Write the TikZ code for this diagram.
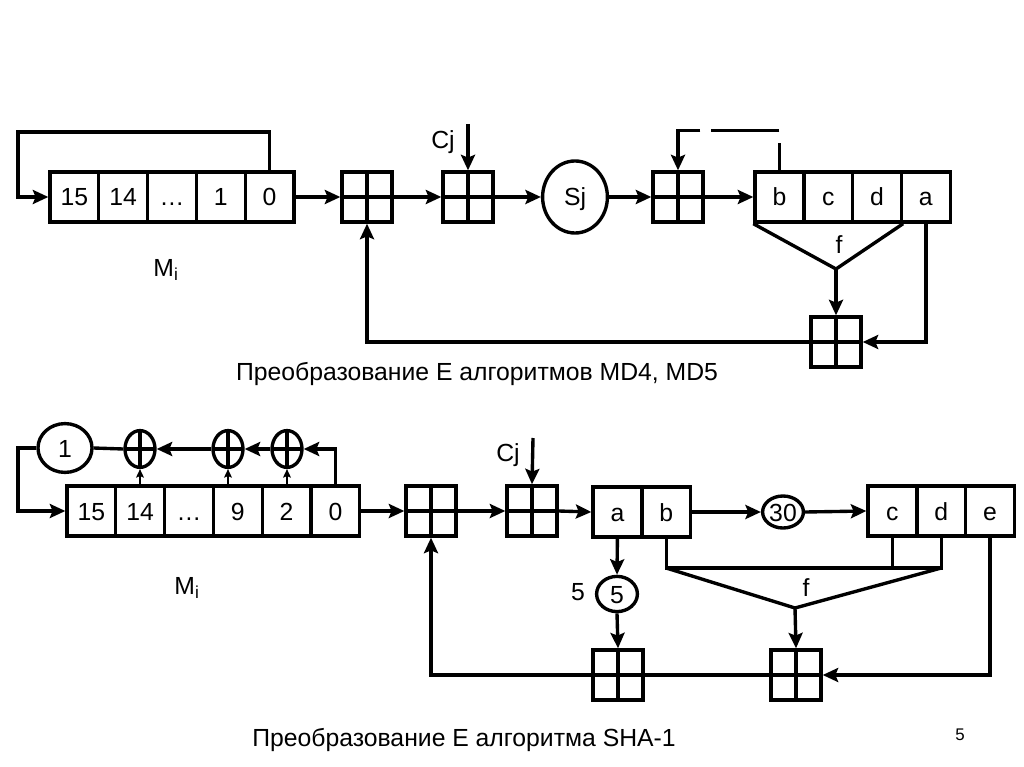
\documentclass[tikz,border=0pt]{standalone}
\usepackage{fontspec}
\setmainfont{Liberation Sans}
\usetikzlibrary{arrows.meta,shapes.geometric}

\begin{document}
\begin{tikzpicture}[x=0.025cm, y=-0.025cm,
  every node/.style={font=\fontsize{17.6}{21}\selectfont},
  line/.style={line width=2.4pt},
  cell/.style={draw, line width=2.4pt, minimum width=1.22cm, minimum height=1.25cm, inner sep=0pt,
    text height=12.8pt, text depth=0pt},
  adder/.style={draw, line width=2.4pt, minimum size=1.25cm, inner sep=0pt,
    path picture={\draw[line width=2.4pt] (path picture bounding box.north) -- (path picture bounding box.south)
      (path picture bounding box.west) -- (path picture bounding box.east);}},
  shifter/.style={ellipse, draw, line width=2.4pt, inner sep=0pt, text height=12.8pt, text depth=0pt},
  xorgate/.style={ellipse, draw, line width=2.4pt, minimum width=0.75cm, minimum height=0.92cm, inner sep=0pt,
    path picture={\draw[line width=2.4pt] (path picture bounding box.north) -- (path picture bounding box.south)
      (path picture bounding box.west) -- (path picture bounding box.east);}},
  arrow/.style={-{Stealth[length=11pt,width=10pt,inset=2pt]}, line width=2.4pt},
  tiparrow/.style={-{Stealth[length=6pt,width=5.5pt,inset=1pt]}, line width=1.5pt},
  dasharrow/.style={arrow, dash pattern=on 0.675cm off 0.325cm on 1.7cm off 0.275cm on 3cm}
]
\useasboundingbox (0,0) rectangle (1024,767);

% MD4, MD5
\foreach \lbl/\nm [count=\i from 0] in {15/t15,14/t14,\ldots/tdots,1/t1,0/t0}
  \node[cell] (\nm) at ({74.4+48.8*\i},197) {\lbl};
\foreach \lbl/\nm [count=\i from 0] in {b/tb,c/tc,d/td,a/ta}
  \node[cell] (\nm) at ({779.4+48.8*\i},197) {\lbl};
\node[adder] (add1) at (367,197) {};
\node[adder] (add2) at (468,197) {};
\node[shifter, minimum width=1.62cm, minimum height=1.8cm] (sj) at (575,197) {Sj};
\node[adder] (add3) at (678,197) {};
\node[adder] (add4) at (836,342) {};
\coordinate (cj1) at (468,124);
\coordinate (topf) at (836,269);
\node (cjtop) at (443,142) {Cj};
\node (mtop) at (166,270) {M\textsubscript{i}};
\node (ftop) at (839,245) {f};

\draw[arrow] (t0.north) |- (18,132) |- (t15.west);
\draw[arrow] (t0.east) -- (add1.west);
\draw[arrow] (add1.east) -- (add2.west);
\draw[arrow] (cj1) -- (add2.north);
\draw[arrow] (add2.east) -- (sj.west);
\draw[arrow] (sj.east) -- (add3.west);
\draw[arrow] (add3.east) -- (tb.west);
\draw[dasharrow] (tb.north) -- ++(0,-40) -| (add3.north);
\draw[line] (tb.south west) -- (topf) -- (td.south east);
\draw[arrow] (topf) -- (add4.north);
\draw[arrow] (ta.south) |- (add4.east);
\draw[arrow] (add4.west) -| (add1.south);

\node (captop) at (477,374) {Преобразование Е алгоритмов MD4, MD5};

% SHA-1
\foreach \lbl/\nm [count=\i from 0] in {15/s15,14/s14,\ldots/sdots,9/s9,2/s2,0/s0}
  \node[cell] (\nm) at ({91.4+48.8*\i},511) {\lbl};
\foreach \lbl/\nm [count=\i from 0] in {a/ra,b/rb}
  \node[cell] (\nm) at ({617.4+48.8*\i},512) {\lbl};
\foreach \lbl/\nm [count=\i from 0] in {c/rc,d/rd,e/re}
  \node[cell] (\nm) at ({892.4+48.8*\i},511) {\lbl};
\node[shifter, minimum width=1.35cm, minimum height=1.22cm] (one) at (65,448) {1};
\node[xorgate] (x1) at (140,449) {};
\node[xorgate] (x2) at (228,449) {};
\node[xorgate] (x3) at (287,449) {};
\node[adder] (add5) at (431,511) {};
\node[adder] (add6) at (532,511) {};
\node[adder] (add7) at (618,675) {};
\node[adder] (add8) at (796,675) {};
\node[shifter, minimum width=1.02cm, minimum height=0.88cm] (e5) at (617,594) {5};
\node[shifter, minimum width=1.02cm, minimum height=0.8cm] (e30) at (783,512) {30};
\coordinate (cj2) at (533,438);
\coordinate (fbase) at (800,568);
\coordinate (botf) at (795,608);
\node (cjbot) at (508,455) {Cj};
\node (mbot) at (187,588) {M\textsubscript{i}};
\node (fbot) at (806,588) {f};
\node (five) at (578,592) {5};

\draw[arrow] (s0.north) |- (x3.east);
\draw[arrow] (x3.west) -- (x2.east);
\draw[arrow] (x2.west) -- (x1.east);
\draw[line] (x1.west) -- (one.east);
\draw[arrow] (one.west) -- (18,448) |- (s15.west);
\draw[tiparrow] (x1.south |- s14.north) -- (x1.south);
\draw[tiparrow] (x2.south |- s9.north) -- (x2.south);
\draw[tiparrow] (x3.south |- s2.north) -- (x3.south);
\draw[arrow] (s0.east) -- (add5.west);
\draw[arrow] (add5.east) -- (add6.west);
\draw[arrow] (cj2) -- (add6.north);
\draw[arrow] (add6.east) -- (ra.west);
\draw[arrow] (rb.east) -- (e30.west);
\draw[arrow] (e30.east) -- (rc.west);
\draw[arrow] (ra.south) -- (e5.north);
\draw[arrow] (e5.south) -- (add7.north);
\draw[line] (rb.south) -- (rb.south |- fbase) -- (rd.south |- fbase) -- (rd.south);
\draw[line] (rc.south) -- (rc.south |- fbase);
\draw[line] (rb.south |- fbase) -- (botf) -- (rd.south |- fbase);
\draw[arrow] (botf) -- (add8.north);
\draw[arrow] (re.south) |- (add8.east);
\draw[line] (add8.west) -- (add7.east);
\draw[arrow] (add7.west) -| (add5.south);

\node (capbot) at (464,740) {Преобразование Е алгоритма SHA-1};
\node[font=\fontsize{12}{14}\selectfont] (page) at (960,735) {5};
\end{tikzpicture}
\end{document}
